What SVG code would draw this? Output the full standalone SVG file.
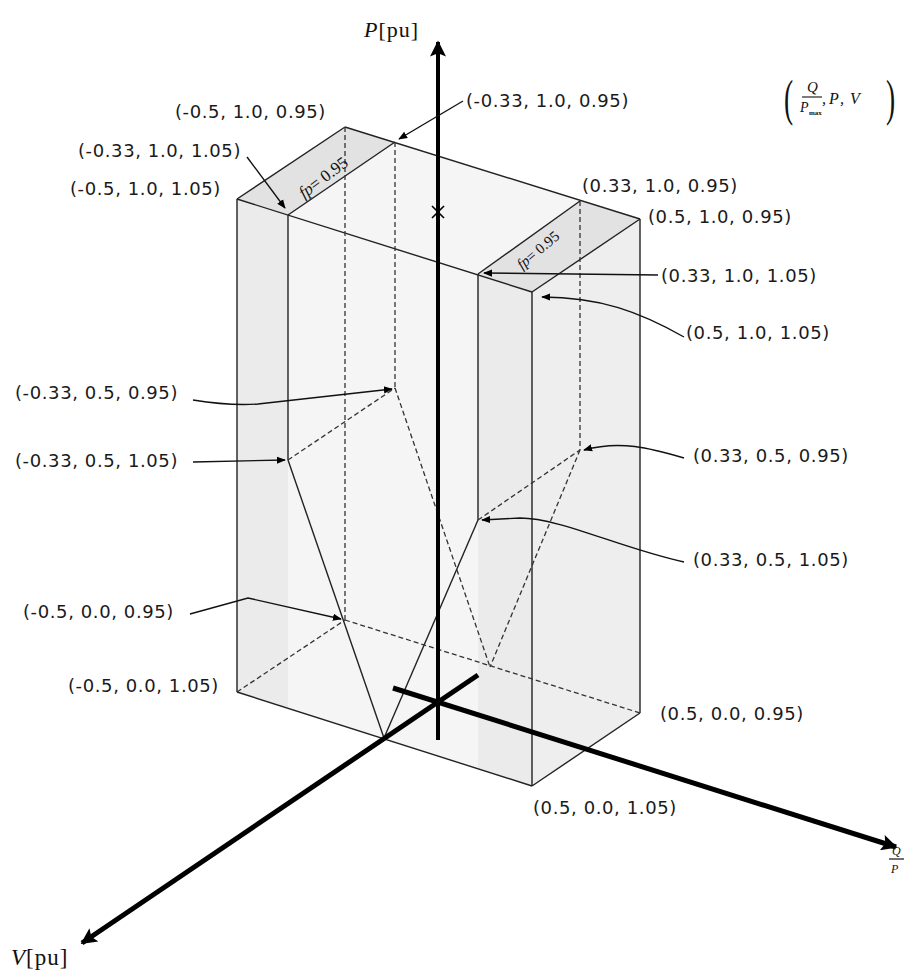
<svg xmlns="http://www.w3.org/2000/svg" width="904" height="973" viewBox="0 0 904 973">
<style>
.lbl{font-family:"DejaVu Sans",sans-serif;font-size:18px;letter-spacing:0.6px;fill:#1a1a1a}
.edge{stroke:#222;stroke-width:1.4;fill:none}
.dash{stroke:#333;stroke-width:1.3;fill:none;stroke-dasharray:5 3}
.lead{stroke:#111;stroke-width:1.4;fill:none;marker-end:url(#sm)}
.axis{stroke:#000;fill:none}
.math{font-family:"Liberation Serif",serif;fill:#111}
</style>
<defs>
<marker id="sm" viewBox="0 0 10 10" refX="9" refY="5" markerWidth="9" markerHeight="9" markerUnits="userSpaceOnUse" orient="auto">
<path d="M0,1 L10,5 L0,9 z" fill="#000"/>
</marker>
<marker id="big" viewBox="0 0 10 10" refX="9" refY="5" markerWidth="20" markerHeight="16" markerUnits="userSpaceOnUse" orient="auto">
<path d="M0,0 L10,5 L0,10 L2,5 z" fill="#000"/>
</marker>
</defs>
<rect width="904" height="973" fill="#fff"/>

<g id="box">
<polygon points="237,199 345,127 640,218 640,713 532,786 237,692" fill="#f5f5f5"/>
<polygon points="237,199 288,215 288,708 237,692" fill="#ebebeb"/>
<polygon points="478,274 532,292 532,786 478,769" fill="#ebebeb"/>
<polygon points="532,292 640,218 640,713 532,786" fill="#eeeeee"/>
<polygon points="237,199 345,127 395,142 288,215" fill="#e2e2e2"/>
<polygon points="478,274 580,201 640,219 532,292" fill="#e2e2e2"/>
<line class="edge" x1="237" y1="199" x2="345" y2="127"/>
<line class="edge" x1="345" y1="127" x2="640" y2="219"/>
<line class="edge" x1="237" y1="199" x2="532" y2="292"/>
<line class="edge" x1="288" y1="215" x2="395" y2="142"/>
<line class="edge" x1="478" y1="274" x2="580" y2="201"/>
<line class="edge" x1="532" y1="292" x2="640" y2="219"/>
<line class="edge" x1="237" y1="199" x2="237" y2="692"/>
<line class="edge" x1="288" y1="215" x2="288" y2="460"/>
<line class="edge" x1="478" y1="274" x2="478" y2="520"/>
<line class="edge" x1="532" y1="292" x2="532" y2="786"/>
<line class="edge" x1="640" y1="219" x2="640" y2="713"/>
<line class="edge" x1="237" y1="692" x2="532" y2="786"/>
<line class="edge" x1="532" y1="786" x2="640" y2="713"/>
<line class="edge" x1="288" y1="460" x2="384" y2="738"/>
<line class="edge" x1="478" y1="520" x2="384" y2="738"/>
<line class="dash" x1="345" y1="127" x2="345" y2="620"/>
<line class="dash" x1="395" y1="142" x2="395" y2="388"/>
<line class="dash" x1="580" y1="201" x2="580" y2="450"/>
<line class="dash" x1="345" y1="620" x2="640" y2="713"/>
<line class="dash" x1="237" y1="692" x2="345" y2="620"/>
<line class="dash" x1="288" y1="460" x2="395" y2="388"/>
<line class="dash" x1="478" y1="520" x2="580" y2="450"/>
<line class="dash" x1="395" y1="388" x2="490" y2="667"/>
<line class="dash" x1="580" y1="450" x2="490" y2="667"/>
<text class="math" font-size="17" transform="translate(304,199) rotate(-37)"><tspan font-style="italic">fp</tspan>= 0.95</text>
<text class="math" font-size="15" transform="translate(522,270) rotate(-40)"><tspan font-style="italic">fp</tspan>= 0.95</text>
</g>

<g id="axes">
<line class="axis" stroke-width="4" x1="438" y1="740" x2="438" y2="42" marker-end="url(#big)"/>
<line class="axis" stroke-width="5" x1="393" y1="688" x2="896" y2="847" marker-end="url(#big)"/>
<line class="axis" stroke-width="5" x1="478" y1="675" x2="82" y2="943" marker-end="url(#big)"/>
<path d="M432,206 L444,218 M444,206 L432,218" stroke="#000" stroke-width="1.6"/>
<text class="math" font-size="22" x="364" y="37" letter-spacing="1"><tspan font-style="italic">P</tspan>[pu]</text>
<text class="math" font-size="23" x="11" y="965" letter-spacing="1"><tspan font-style="italic">V</tspan>[pu]</text>
<text class="math" font-size="12" font-style="italic" x="892" y="855">Q</text>
<line x1="889" y1="859" x2="904" y2="859" stroke="#111" stroke-width="1.2"/>
<text class="math" font-size="12" font-style="italic" x="891" y="873">P</text>
</g>

<g id="legend">
<text class="math" font-size="50" transform="translate(784,115) scale(0.55,1)">(</text>
<text class="math" font-size="15" font-style="italic" x="807" y="92">Q</text>
<line x1="802" y1="97" x2="822" y2="97" stroke="#111" stroke-width="1.1"/>
<text class="math" font-size="14" font-style="italic" x="800" y="112">P</text>
<text class="math" font-size="7" font-weight="bold" x="809" y="115">max</text>
<text class="math" font-size="16" font-style="italic" y="104"><tspan x="822">,</tspan><tspan x="829">P</tspan><tspan x="840">,</tspan><tspan x="850">V</tspan></text>
<text class="math" font-size="50" transform="translate(886,115) scale(0.55,1)">)</text>
</g>

<g id="connectors">
<path class="lead" d="M463,101 L399,139"/>
<path class="lead" d="M247,157 L285,208"/>
<path class="lead" d="M658,275 L484,273"/>
<path class="lead" d="M684,337 C640,312 600,297 542,297"/>
<path class="lead" d="M193,400 Q230,406 258,404 L392,389"/>
<path class="lead" d="M193,462 L285,460"/>
<path class="lead" d="M684,458 C650,448 620,440 584,450"/>
<path class="lead" d="M684,562 C620,548 560,518 520,518 L482,520"/>
<path class="lead" d="M190,614 L248,598 L341,619"/>
</g>

<g id="labels">
<text class="lbl" x="175" y="118">(-0.5, 1.0, 0.95)</text>
<text class="lbl" x="466" y="107">(-0.33, 1.0, 0.95)</text>
<text class="lbl" x="78" y="157">(-0.33, 1.0, 1.05)</text>
<text class="lbl" x="70" y="195">(-0.5, 1.0, 1.05)</text>
<text class="lbl" x="582" y="192">(0.33, 1.0, 0.95)</text>
<text class="lbl" x="648" y="223">(0.5, 1.0, 0.95)</text>
<text class="lbl" x="661" y="282">(0.33, 1.0, 1.05)</text>
<text class="lbl" x="686" y="339">(0.5, 1.0, 1.05)</text>
<text class="lbl" x="15" y="399">(-0.33, 0.5, 0.95)</text>
<text class="lbl" x="15" y="467">(-0.33, 0.5, 1.05)</text>
<text class="lbl" x="693" y="462">(0.33, 0.5, 0.95)</text>
<text class="lbl" x="693" y="566">(0.33, 0.5, 1.05)</text>
<text class="lbl" x="23" y="618">(-0.5, 0.0, 0.95)</text>
<text class="lbl" x="68" y="692">(-0.5, 0.0, 1.05)</text>
<text class="lbl" x="660" y="720">(0.5, 0.0, 0.95)</text>
<text class="lbl" x="533" y="814">(0.5, 0.0, 1.05)</text>
</g>
</svg>
